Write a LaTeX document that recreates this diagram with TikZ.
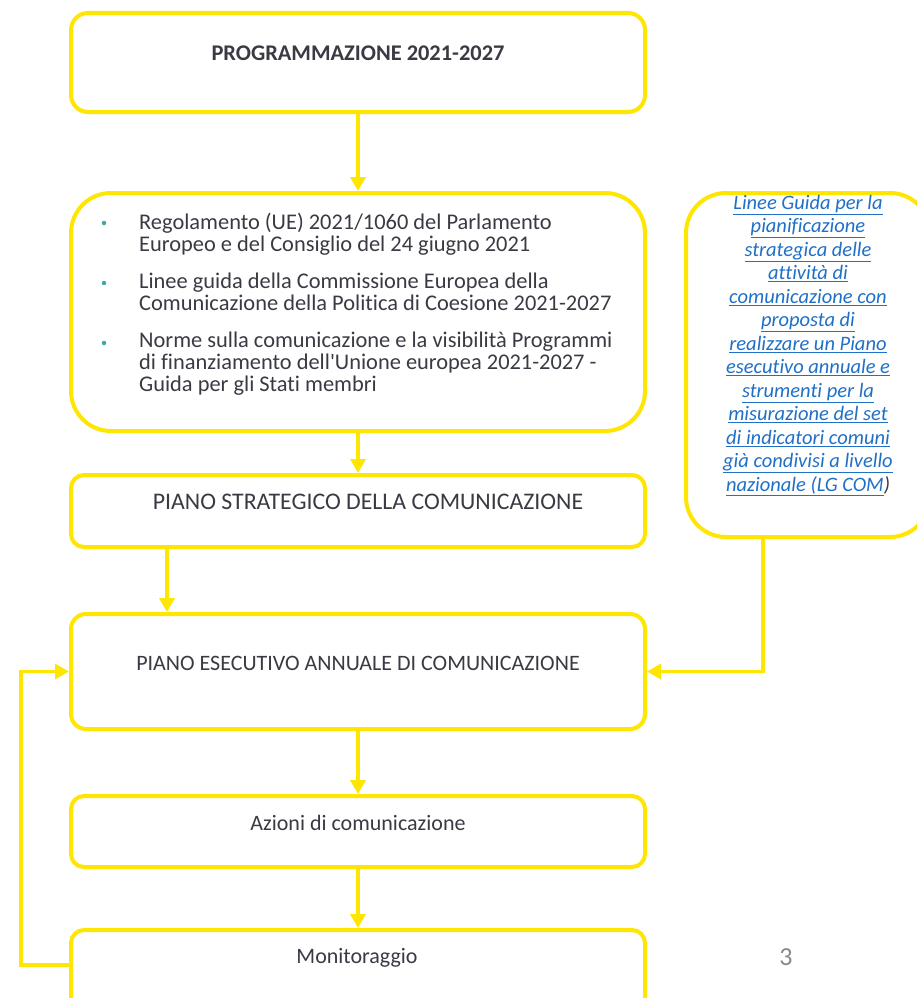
\documentclass[tikz,border=0pt]{standalone}
\usepackage{fontspec}
\setmainfont{Carlito}[Ligatures={TeX,NoCommon}]
\usetikzlibrary{arrows.meta}
\definecolor{ybox}{RGB}{255,230,0}
\definecolor{txt}{RGB}{58,58,68}
\definecolor{lnk}{RGB}{32,112,200}
\definecolor{bul}{RGB}{64,168,160}
\definecolor{pnum}{RGB}{137,137,137}
\newcommand\myul[1]{\underline{#1}}
\newcommand\straightapos{{\addfontfeatures{Ligatures=TeXOff}'}}
\begin{document}
\begin{tikzpicture}[x=1pt,y=-1pt,
  box/.style={draw=ybox,line width=4pt,fill=white,inner sep=0pt,minimum width=574pt},
  conn/.style={draw=ybox,line width=3.5pt,-{Triangle[width=15pt,length=14pt]}},
  lbl/.style={text=txt,font=\fontsize{22}{21.5}\selectfont,inner sep=0pt},
  plist/.style={text=txt,font=\fontsize{22.4}{21.7}\selectfont,inner sep=0pt,align=left,anchor=base west},
  bdot/.style={fill=bul,circle,minimum size=4.5pt,inner sep=0pt},
  linktext/.style={text=lnk,font=\itshape\fontsize{20.5}{23.5}\selectfont,inner sep=0pt,align=center}]
\fill[white] (0,0) rectangle (917,998);
\clip (0,0) rectangle (917,998);
% boxes
\node[box,rounded corners=17pt,minimum height=99pt] (b1) at (358,62.5) {};
\node[box,rounded corners=40pt,minimum height=238pt] (b2) at (358,312) {};
\node[box,rounded corners=13pt,minimum height=72pt] (b3) at (358,511) {};
\node[box,rounded corners=15pt,minimum height=115pt] (b4) at (358,671.5) {};
\node[box,rounded corners=13pt,minimum height=71pt] (b5) at (358,831.5) {};
\node[box,rounded corners=13pt,minimum height=80pt] (b6) at (358,970) {};
\node[box,rounded corners=40pt,minimum width=244pt,minimum height=344pt] (r) at (808,365) {};
% texts
\node[lbl,font=\bfseries\fontsize{22.4}{26}\selectfont,anchor=base] (t1) at (358,60) {PROGRAMMAZIONE 2021-2027};
\node[bdot] (d1) at (104,223) {};
\node[bdot] (d2) at (104,283) {};
\node[bdot] (d3) at (104,343) {};
\node[plist] (p1) at (139,251) {Regolamento (UE) 2021/1060 del Parlamento\\Europeo e del Consiglio del 24 giugno 2021};
\node[plist] (p2) at (139,310) {Linee guida della Commissione Europea della\\Comunicazione della Politica di Coesione 2021-2027};
\node[plist] (p3) at (139,391) {Norme sulla comunicazione e la visibilità Programmi\\di finanziamento dell\straightapos Unione europea 2021-2027 -\\Guida per gli Stati membri};
\node[lbl,font=\fontsize{23.8}{26}\selectfont,anchor=base] (t3) at (368,509) {PIANO STRATEGICO DELLA COMUNICAZIONE};
\node[lbl,anchor=base] (t4) at (358,670) {PIANO ESECUTIVO ANNUALE DI COMUNICAZIONE};
\node[lbl,anchor=base] (t5) at (358,830) {Azioni di comunicazione};
\node[lbl,anchor=base] (t6) at (357,963) {Monitoraggio};
\node[linktext,anchor=base] (rt) at (808,491.2) {\myul{Linee Guida per la}\\\myul{pianificazione}\\\myul{strategica delle}\\\myul{attività di}\\\myul{comunicazione con}\\\myul{proposta di}\\\myul{realizzare un Piano}\\\myul{esecutivo annuale e}\\\myul{strumenti per la}\\\myul{misurazione del set}\\\myul{di indicatori comuni}\\\myul{già condivisi a livello}\\\myul{nazionale (LG COM}\textcolor{txt}{)}};
\node[text=pnum,font=\fontsize{26}{30}\selectfont,inner sep=0pt,anchor=base] (pg) at (786,965) {3};
% connectors
\draw[conn] (b1.south) -- (b2.north);
\draw[conn] (b2.south) -- (b3.north);
\draw[conn] ([xshift=98pt]b3.south west) -- ([xshift=98pt]b4.north west);
\draw[conn] (b4.south) -- (b5.north);
\draw[conn] (b5.south) -- (b6.north);
\draw[conn] ([xshift=79pt]r.south west) |- (b4.east);
\draw[conn] ([yshift=5pt]b6.west) -- ++(-48,0) |- (b4.west);
\end{tikzpicture}
\end{document}
